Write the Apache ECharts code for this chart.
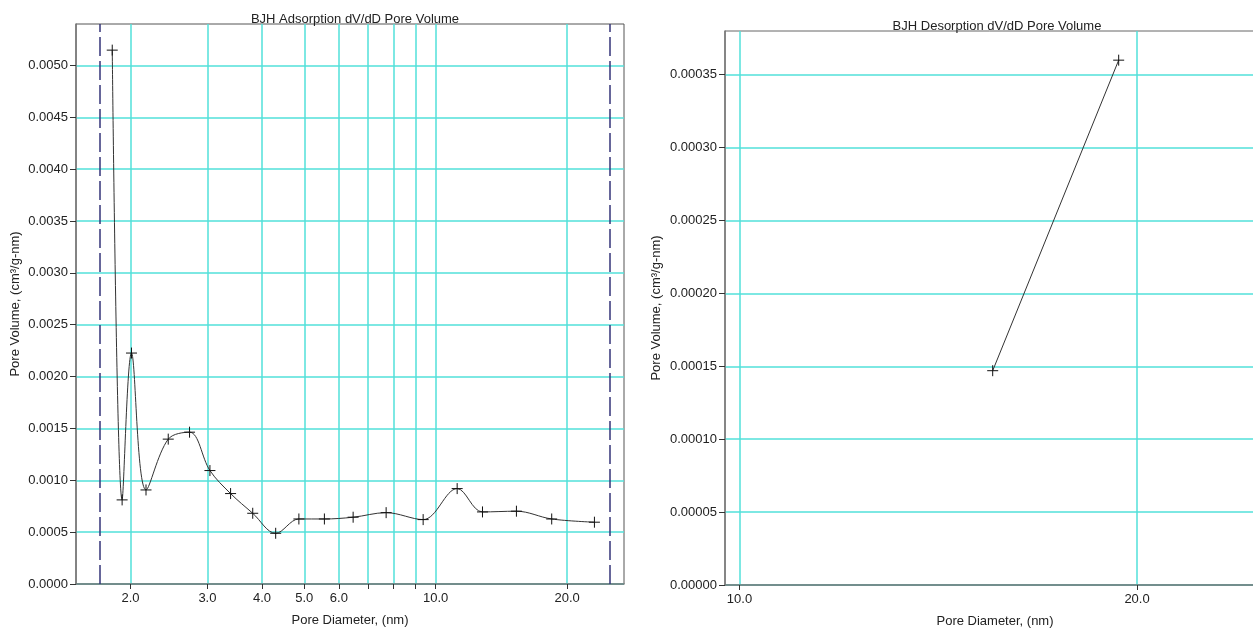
<!DOCTYPE html>
<html>
<head>
<meta charset="utf-8">
<title>BJH dV/dD Pore Volume</title>
<script src="https://cdn.jsdelivr.net/npm/echarts@6/dist/echarts.min.js"></script>
<style>
  html, body { margin: 0; padding: 0; background: #fff; }
  #chart { width: 1253px; height: 630px; }
</style>
</head>
<body>
<div id="chart"></div>
<script>
// BJH adsorption branch: pore diameter (nm) and dV/dD pore volume (cm³/g-nm)
const adsDiameter = [1.816, 1.913, 2.01, 2.17, 2.44, 2.73, 3.04, 3.39, 3.81, 4.30,
                     4.86, 5.56, 6.47, 7.70, 9.36, 11.20, 12.80, 15.31, 18.44, 23.1];
const adsVolume   = [0.005148, 0.000811, 0.002227, 0.000907, 0.001397, 0.001464, 0.001094, 0.000872, 0.000682, 0.000489,
                     0.000627, 0.000627, 0.000644, 0.000688, 0.000621, 0.000920, 0.000695, 0.000702, 0.000627, 0.000596];

// BJH desorption branch
const desDiameter = [15.55, 19.37];
const desVolume   = [0.000147, 0.000360];

// Calculation range limits drawn as dashed verticals
const adsRangeLimits = [1.7, 25];

// Tick positions and labels
const adsXTicks  = [2, 3, 4, 5, 6, 7, 8, 9, 10, 20];
const adsXLabels = [2, 3, 4, 5, 6, 10, 20];
const adsYTicks  = [0, 0.0005, 0.0010, 0.0015, 0.0020, 0.0025, 0.0030, 0.0035, 0.0040, 0.0045, 0.0050];
const desXTicks  = [10, 20];
const desYTicks  = [0, 0.00005, 0.00010, 0.00015, 0.00020, 0.00025, 0.00030, 0.00035];

const FONT = 'Liberation Sans, Arial, sans-serif';
const TEXT = '#222';
const GRID_LINE = '#52e0da';
const CROSS = 'path://M0 5L10 5M5 0L5 10';

function pairs(xs, ys) { return xs.map((x, i) => [x, ys[i]]); }

function xAxisBase(gridIndex, min, max, ticks, labels, nameGap) {
  return {
    type: 'log', gridIndex, min, max, logBase: 10,
    name: 'Pore Diameter, (nm)', nameLocation: 'middle', nameGap,
    nameTextStyle: { fontFamily: FONT, fontSize: 13, color: TEXT },
    axisLine: { show: true, lineStyle: { color: '#777', width: 1.5 } },
    axisTick: { show: true, inside: false, length: 5, customValues: ticks, lineStyle: { color: '#333' } },
    axisLabel: { customValues: labels, fontFamily: FONT, fontSize: 13, color: TEXT, margin: 8,
                 formatter: v => Number(v).toFixed(1) },
    splitLine: { show: true, lineStyle: { color: GRID_LINE, width: 1.5 } },
    minorTick: { show: false }, minorSplitLine: { show: false }
  };
}

function yAxisBase(gridIndex, max, ticks, digits, nameGap) {
  return {
    type: 'value', gridIndex, min: 0, max,
    name: 'Pore Volume, (cm³/g-nm)', nameLocation: 'middle', nameGap, nameRotate: 90,
    nameTextStyle: { fontFamily: FONT, fontSize: 13, color: TEXT },
    axisLine: { show: true, lineStyle: { color: '#777', width: 1.5 } },
    axisTick: { show: true, inside: false, length: 6, customValues: ticks, lineStyle: { color: '#333' } },
    axisLabel: { customValues: ticks, fontFamily: FONT, fontSize: 13, color: TEXT, margin: 8,
                 formatter: v => Number(v).toFixed(digits) },
    splitLine: { show: true, lineStyle: { color: GRID_LINE, width: 1.5 } }
  };
}

const chart = echarts.init(document.getElementById('chart'), null, { renderer: 'canvas' });

chart.setOption({
  animation: false,
  backgroundColor: '#fff',
  title: [
    { text: 'BJH Adsorption dV/dD Pore Volume', left: 350, top: 8, textAlign: 'center',
      textStyle: { fontFamily: FONT, fontSize: 13, fontWeight: 'normal', color: TEXT } },
    { text: 'BJH Desorption dV/dD Pore Volume', left: 992, top: 15, textAlign: 'center',
      textStyle: { fontFamily: FONT, fontSize: 13, fontWeight: 'normal', color: TEXT } }
  ],
  grid: [
    { left: 76, top: 24, width: 548, height: 560, outerBoundsMode: 'none', containLabel: false,
      show: true, borderColor: '#555', borderWidth: 1, backgroundColor: '#fff' },
    { left: 725, top: 31, width: 540, height: 554, outerBoundsMode: 'none', containLabel: false,
      show: true, borderColor: '#666', borderWidth: 1, backgroundColor: '#fff' }
  ],
  xAxis: [
    xAxisBase(0, 1.5, 27, adsXTicks, adsXLabels, 30),
    xAxisBase(1, 9.75, 25, desXTicks, desXTicks, 30)
  ],
  yAxis: [
    yAxisBase(0, 0.0054, adsYTicks, 4, 54),
    yAxisBase(1, 0.00038, desYTicks, 5, 62)
  ],
  series: [
    {
      name: 'BJH Adsorption', type: 'line', xAxisIndex: 0, yAxisIndex: 0,
      data: pairs(adsDiameter, adsVolume),
      smooth: 0.35,
      symbol: CROSS, symbolSize: 11, showSymbol: true,
      lineStyle: { color: '#333', width: 1 },
      itemStyle: { color: '#111', borderColor: '#111', borderWidth: 1 },
      markLine: {
        silent: true, symbol: 'none', label: { show: false },
        lineStyle: { color: '#34357a', width: 1.5, type: [19, 5] },
        data: adsRangeLimits.map(v => ({ xAxis: v }))
      },
      z: 3
    },
    {
      name: 'BJH Desorption', type: 'line', xAxisIndex: 1, yAxisIndex: 1,
      data: pairs(desDiameter, desVolume),
      symbol: CROSS, symbolSize: 11, showSymbol: true,
      lineStyle: { color: '#333', width: 1 },
      itemStyle: { color: '#111', borderColor: '#111', borderWidth: 1 },
      z: 3
    }
  ]
});
</script>
</body>
</html>
